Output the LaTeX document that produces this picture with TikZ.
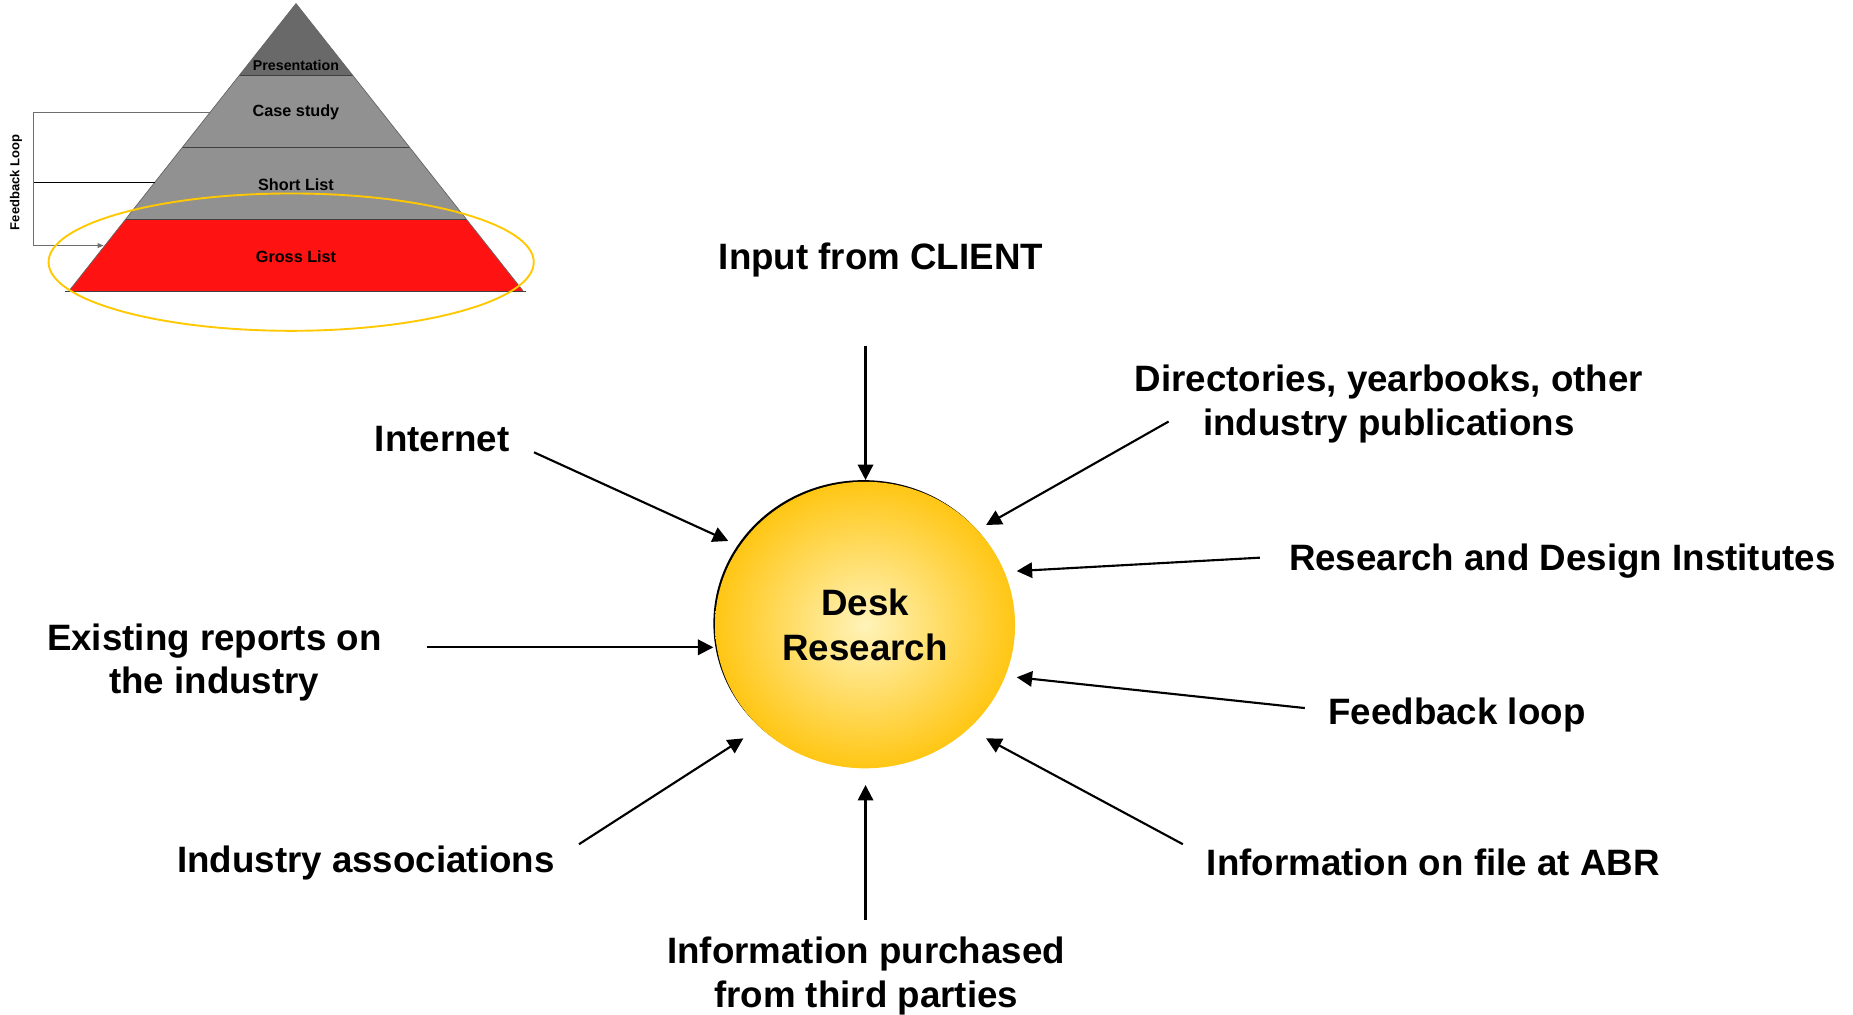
\documentclass[tikz,border=0pt]{standalone}
\usepackage{fontspec}
\setmainfont{Liberation Sans}
\usetikzlibrary{arrows.meta,shapes.geometric}
\definecolor{sunin}{RGB}{255,243,185}
\definecolor{sunout}{RGB}{255,198,20}
\definecolor{ringgold}{RGB}{255,200,0}
\definecolor{topgray}{RGB}{105,105,105}
\definecolor{midgray}{RGB}{145,145,145}
\definecolor{grossred}{RGB}{255,18,18}
\definecolor{loopgray}{RGB}{110,110,110}
\begin{document}
\begin{tikzpicture}[x=1pt,y=-1pt,
  lbl/.style={font=\fontsize{31}{37}\selectfont\bfseries, align=center, inner sep=0pt},
  feed/.style={line width=1.8pt, -{Triangle[length=13pt,width=13pt]}},
  plbl/.style={font=\fontsize{13.7}{16}\selectfont\bfseries, inner sep=0pt},
  level/.style={draw=black!75, line width=0.8pt},
]
\useasboundingbox (0,0) rectangle (1565,856.4);

% ---------- pyramid ----------
\coordinate (apex) at (250,3);
\coordinate (l1) at (202,63.75);   \coordinate (r1) at (298,63.75);
\coordinate (l2) at (154,124.5);   \coordinate (r2) at (346,124.5);
\coordinate (l3) at (106,185.25);  \coordinate (r3) at (394,185.25);
\coordinate (l4) at (58,246);      \coordinate (r4) at (442,246);
\fill[topgray] (apex) -- (r1) -- (l1) -- cycle;
\fill[midgray] (l1) -- (r1) -- (r3) -- (l3) -- cycle;
\fill[grossred] (l3) -- (r3) -- (r4) -- (l4) -- cycle;
\draw[level] (l1) -- (r1);
\draw[level] (l2) -- (r2);
\draw[level] (l3) -- (r3);
\draw[level] (55,246) -- (444.5,246);
\draw[black!60, line width=0.6pt] (l4) -- (apex) -- (r4);

\node[font=\fontsize{12}{14}\selectfont\bfseries, inner sep=0pt] (pres) at (250,55.5) {Presentation};
\node[plbl] (case) at (250,95.1) {Case study};
\node[plbl] (short) at (250,155.6) {Short List};
\node[plbl] (gross) at (250,217.1) {Gross List};

% feedback loop of the pyramid
\coordinate (fbtop) at (177.2,95.1);
\coordinate (fbtl) at (28.6,95.1);
\coordinate (fbmid) at (130.6,154.1);
\coordinate (fbml) at (28.6,154.1);
\coordinate (fbbl) at (28.6,207.4);
\coordinate (fbend) at (87.5,207.4);
\draw[loopgray, line width=0.9pt] (fbtop) -- (fbtl) -- (fbbl);
\draw[black, line width=0.9pt] (fbml) -- (fbmid);
\draw[loopgray, line width=0.9pt, -{Triangle[length=5pt,width=4pt]}] (fbbl) -- (fbend);
\node[font=\fontsize{11}{13}\selectfont\bfseries, rotate=90, inner sep=0pt] (fbl) at (13.5,154) {Feedback Loop};

\draw[ringgold, line width=1.6pt] (245.9,221.4) ellipse [x radius=204.9, y radius=58];

% ---------- desk research ----------
\fill[black] (729.2,526.5) ellipse [x radius=126.7, y radius=121];
\node[ellipse, minimum width=253.4pt, minimum height=242pt, inner sep=0pt,
      shade, inner color=sunin, outer color=sunout,
      font=\fontsize{31}{38}\selectfont\bfseries, align=center] (desk) at (730.6,527.9) {Desk\\Research};

% ---------- labels ----------
\node[lbl] (client) at (744,219.9) {Input from CLIENT};
\node[lbl] (dir) at (1173,341.5) {Directories, yearbooks, other\\industry publications};
\node[lbl] (inet) at (373.5,370.7) {Internet};
\node[lbl] (rdi) at (1319.5,474) {Research and Design Institutes};
\node[lbl] (exist) at (181,559.5) {Existing reports on\\the industry};
\node[lbl] (fbk) at (1230.5,604) {Feedback loop};
\node[lbl] (assoc) at (309,729) {Industry associations};
\node[lbl] (abr) at (1210.5,728.7) {Information on file at ABR};
\node[lbl] (third) at (731.5,824.5) {Information purchased\\from third parties};

% ---------- arrows ----------
\coordinate (t1) at (731,292);   \coordinate (h1) at (731,405.4);
\coordinate (t2) at (987,356);   \coordinate (h2) at (832.8,443.4);
\coordinate (t3) at (451,382);   \coordinate (h3) at (615.1,456.9);
\coordinate (t4) at (1064,471);  \coordinate (h4) at (858.7,482.3);
\coordinate (t5) at (361,546.7); \coordinate (h5) at (602.5,546.7);
\coordinate (t6) at (1102,598);  \coordinate (h6) at (858.7,572);
\coordinate (t7) at (489,713);   \coordinate (h7) at (627.8,623.6);
\coordinate (t8) at (999,713);   \coordinate (h8) at (832.8,623.6);
\coordinate (t9) at (731,777);   \coordinate (h9) at (731,663);
\draw[feed] (t1) -- (h1);
\draw[feed] (t2) -- (h2);
\draw[feed] (t3) -- (h3);
\draw[feed] (t4) -- (h4);
\draw[feed] (t5) -- (h5);
\draw[feed] (t6) -- (h6);
\draw[feed] (t7) -- (h7);
\draw[feed] (t8) -- (h8);
\draw[feed] (t9) -- (h9);
\end{tikzpicture}
\end{document}
